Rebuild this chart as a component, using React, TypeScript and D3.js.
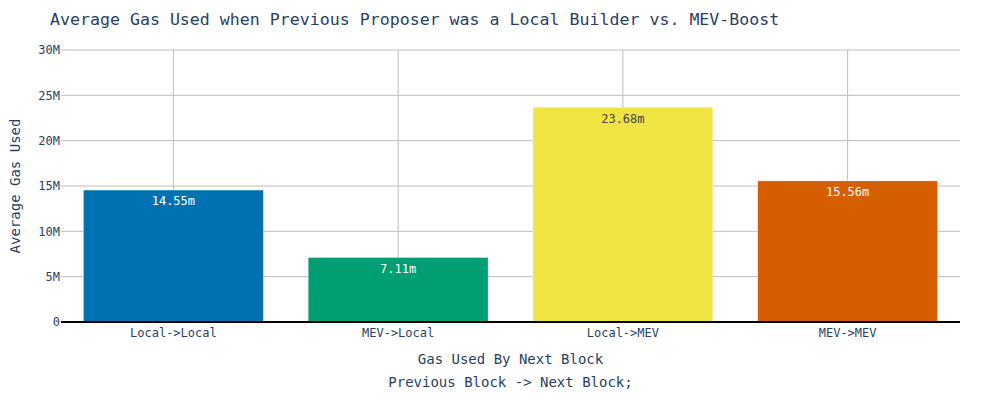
import React from "react";
import * as d3 from "d3";

const categories = ["Local->Local", "MEV->Local", "Local->MEV", "MEV->MEV"];
const values = [14.55e6, 7.11e6, 23.68e6, 15.56e6];
const barLabels = ["14.55m", "7.11m", "23.68m", "15.56m"];
const colors = ["#0072B2", "#009E73", "#F0E442", "#D55E00"];
const labelColors = ["#ffffff", "#ffffff", "#444444", "#ffffff"];
const yTicks = [0, 5e6, 10e6, 15e6, 20e6, 25e6, 30e6];
const yTickLabels = ["0", "5M", "10M", "15M", "20M", "25M", "30M"];

const W = 1000, H = 400;
const M = { left: 61, right: 40, top: 50, bottom: 78 };
const FONT = "'DejaVu Sans Mono', monospace";
const TXT = "#2a3f5f";

export default function App() {
  if (typeof document !== "undefined") document.body.style.margin = "0";
  const x = d3.scaleBand<string>().domain(categories).range([M.left, W - M.right]).paddingInner(0.2).paddingOuter(0.1);
  const y = d3.scaleLinear().domain([0, 30e6]).range([H - M.bottom, M.top]);
  const bw = x.bandwidth();
  const xc = (c: string) => (x(c) as number) + bw / 2;
  return (
    <svg width={W} height={H} style={{ display: "block", fontFamily: FONT }}>
      <rect width={W} height={H} fill="#fff" />
      {yTicks.map((t, i) => (
        <g key={"y" + i}>
          {i > 0 && <line x1={M.left} x2={W - M.right} y1={y(t)} y2={y(t)} stroke="#bdbdbd" strokeWidth={1} />}
          <text x={M.left - 1} y={y(t)} dy="0.35em" textAnchor="end" fontSize={12} fill={TXT}>{yTickLabels[i]}</text>
        </g>
      ))}
      {categories.map((c) => (
        <line key={"v" + c} x1={xc(c)} x2={xc(c)} y1={M.top} y2={H - M.bottom} stroke="#bdbdbd" />
      ))}
      {categories.map((c, i) => (
        <g key={"b" + c}>
          <rect x={x(c)} y={y(values[i])} width={bw} height={y(0) - y(values[i])} fill={colors[i]} stroke="rgba(255,255,255,0.5)" strokeWidth={0.5} />
          <text x={xc(c)} y={y(values[i]) + 11} dy="0.35em" textAnchor="middle" fontSize={12} fill={labelColors[i]}>{barLabels[i]}</text>
          <text x={xc(c)} y={H - M.bottom + 11} dy="0.35em" textAnchor="middle" fontSize={12} fill={TXT}>{c}</text>
        </g>
      ))}
      <line x1={M.left} x2={W - M.right} y1={y(0)} y2={y(0)} stroke="#000" strokeWidth={2} />
      <text x={50} y={19} dy="0.35em" fontSize={16.6} fill={TXT}>Average Gas Used when Previous Proposer was a Local Builder vs. MEV-Boost</text>
      <text transform={`translate(15,${(M.top + H - M.bottom) / 2}) rotate(-90)`} dy="0.35em" textAnchor="middle" fontSize={14} fill={TXT}>Average Gas Used</text>
      <text x={(M.left + W - M.right) / 2} y={359} dy="0.35em" textAnchor="middle" fontSize={14} fill={TXT}>Gas Used By Next Block</text>
      <text x={(M.left + W - M.right) / 2} y={382} dy="0.35em" textAnchor="middle" fontSize={14} fill={TXT}>Previous Block -&gt; Next Block;</text>
    </svg>
  );
}
